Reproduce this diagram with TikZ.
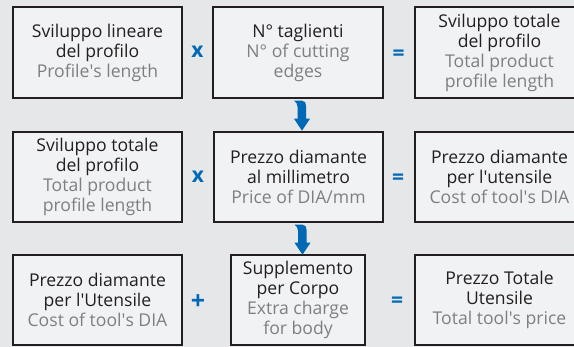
\documentclass[tikz,border=0pt]{standalone}
\usepackage{fontspec}
\setmainfont{Open Sans}
\definecolor{bgcol}{HTML}{E6E7E8}
\definecolor{boxfill}{HTML}{F1F2F4}
\definecolor{boxline}{HTML}{231F20}
\definecolor{maintext}{HTML}{231F20}
\definecolor{engl}{HTML}{7D7F82}
\definecolor{opblue}{HTML}{0068B4}
\newcommand{\en}[1]{\textcolor{engl}{#1}}
\newcommand{\ap}{\textquotesingle}
\tikzset{
  box/.style={draw=boxline, line width=1.5pt, fill=boxfill, inner sep=0pt,
    minimum height=90pt, align=center, text=maintext,
    font=\fontsize{17.6}{20}\selectfont},
  opsym/.style={text=opblue, inner sep=0pt, font=\fontsize{21}{22}\selectfont\bfseries},
  bentarrow/.pic={\fill[opblue] (-4,2) -- (4,2) .. controls (7,2) and (8,4) .. (8,7)
      -- (8,20) -- (12,20) -- (4,32) -- (-4,20) -- (-0.5,20) -- (-0.5,8)
      .. controls (-0.5,5) and (-2,3) .. (-4,2) -- cycle;}
}
\begin{document}
\begin{tikzpicture}[x=1pt,y=-1pt]
\clip (0,0) rectangle (574,347);
\fill[bgcol] (0,0) rectangle (574,347);
% row 1
\node[box, minimum width=169pt, minimum height=91pt] (a1) at (97.5,52.5)
  {Sviluppo lineare\\del profilo\\\en{Profile\ap s length}};
\node[box, minimum width=170pt, minimum height=91pt] (b1) at (298,52.5)
  {N° taglienti\\\en{N° of cutting}\\\en{edges}};
\node[box, minimum width=169pt, minimum height=91pt] (c1) at (499.5,52.5)
  {Sviluppo totale\\del profilo\\\en{Total product}\\\en{profile length}};
\node[opsym] (x1) at (197.5,52) {x};
\node[opsym] (e1) at (398.5,55) {=};
% row 2
\node[box, minimum width=169pt] (a2) at (97.5,177)
  {Sviluppo totale\\del profilo\\\en{Total product}\\\en{profile length}};
\node[box, minimum width=169pt] (b2) at (298.5,177)
  {Prezzo diamante\\al millimetro\\\en{Price of DIA/mm}};
\node[box, minimum width=169pt] (c2) at (499.5,177)
  {Prezzo diamante\\per l\ap utensile\\\en{Cost of tool\ap s DIA}};
\node[opsym] (x2) at (198,177) {x};
\node[opsym] (e2) at (398,179) {=};
% row 3
\node[box, minimum width=169pt] (a3) at (97.5,300)
  {Prezzo diamante\\per l\ap Utensile\\\en{Cost of tool\ap s DIA}};
\node[box, minimum width=134pt] (b3) at (298,300)
  {Supplemento\\per Corpo\\\en{Extra charge}\\\en{for body}};
\node[box, minimum width=169pt] (c3) at (499.5,300)
  {Prezzo Totale\\Utensile\\\en{Total tool\ap s price}};
\node[opsym, font=\fontsize{25}{26}\selectfont\bfseries] (p3) at (198,302) {+};
\node[opsym] (e3) at (397,302) {=};
% arrows
\path (b1.south) pic {bentarrow};
\path (b2.south) pic {bentarrow};
\end{tikzpicture}
\end{document}
